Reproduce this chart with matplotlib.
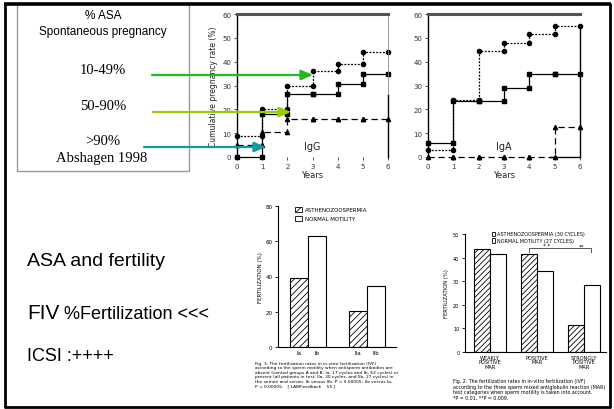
import matplotlib
matplotlib.use("Agg")
import matplotlib.pyplot as plt
from matplotlib.patches import Rectangle

# --- data ---
years = [0, 1, 2, 3, 4, 5, 6]
# cumulative pregnancy rate (%) per yearly interval
igg_low = [9, 20, 30, 36, 39, 44]       # 10-49% ASA, dotted circles
igg_mid = [0, 18, 26.5, 26.5, 30.5, 35]  # 50-90% ASA, solid squares
igg_high = [5, 10.5, 16, 16, 16, 16]     # >90% ASA, dashed triangles
iga_low = [3, 24, 44.5, 48, 51.5, 55]
iga_mid = [6, 23.5, 23.5, 29, 35, 35]
iga_high = [0, 0, 0, 0, 0, 12.5]

fig3_groups = ["Ia", "Ib", "IIa", "IIb"]
fig3_astheno = [39, 20.5]
fig3_normal = [63, 34.5]

fig2_groups = ["WEAKLY\nPOSITIVE\nMAR", "POSITIVE\nMAR", "STRONGLY\nPOSITIVE\nMAR"]
fig2_astheno = [43.5, 41.5, 11.5]
fig2_normal = [41.5, 34.5, 28.5]

W, H = 614, 410
fig = plt.figure(figsize=(W / 100, H / 100), dpi=100)
plt.rcParams["hatch.linewidth"] = 0.6


def px_axes(x0, y0, x1, y1):
    return fig.add_axes([x0 / W, 1 - y1 / H, (x1 - x0) / W, (y1 - y0) / H])


def step_pts(vals):
    xs, ys = [], []
    for i, v in enumerate(vals):
        xs += [years[i], years[i + 1]]
        ys += [v, v]
    return xs, ys


def km_plot(ax, low, mid, high, label, ylab):
    for vals, ls, mk in [(low, (0, (1.5, 1.2)), "o"), (mid, "-", "s"), (high, (0, (5, 3)), "^")]:
        xs, ys = step_pts(vals)
        ax.plot(xs, ys, color="black", lw=0.9, ls=ls, marker=mk, ms=3, clip_on=False)
    ax.set_xlim(0, 6)
    ax.set_ylim(0, 60)
    ax.set_xticks(years)
    ax.set_yticks(range(0, 61, 10))
    ax.tick_params(labelsize=5, length=2, width=0.6, pad=2, colors="#333")
    for s in ["bottom", "right"]:
        ax.spines[s].set_visible(False)
    ax.spines["top"].set_linewidth(2.2)
    ax.spines["top"].set_color("#555")
    ax.spines["left"].set_linewidth(1)
    ax.set_xlabel("Years", fontsize=6, labelpad=1, color="#222")
    if ylab:
        ax.set_ylabel("Cumulative pregnancy rate (%)", fontsize=5.5, labelpad=3, color="#222")
    ax.text(3.0, 4.6, label, fontsize=7, ha="center", va="center", color="#222")
    ax.patch.set_alpha(0)


ax1 = px_axes(237, 15, 388, 158)
km_plot(ax1, igg_low, igg_mid, igg_high, "IgG", True)
ax1.plot([6, 6], [0, 60], color="#888", lw=0.6, clip_on=False)
ax1.plot([6, 6], [0, 26], color="black", lw=1, clip_on=False)

ax2 = px_axes(428, 15, 580, 158)
km_plot(ax2, iga_low, iga_mid, iga_high, "IgA", False)
ax2.plot([6, 6], [0, 55], color="black", lw=1, clip_on=False)
ax2.plot([4.8, 6], [0, 0], color="black", lw=1, clip_on=False)

# --- Fig. 3 bar chart (bar width = 1 unit) ---
ax3 = px_axes(278, 207, 396, 348)
c3 = [1.67, 4.94]
ax3.bar([c - 0.5 for c in c3], fig3_astheno, width=1, color="white", edgecolor="black",
        hatch="/////", lw=0.8)
ax3.bar([c + 0.5 for c in c3], fig3_normal, width=1, color="white", edgecolor="black", lw=0.8)
ax3.set_xlim(0, 6.56)
ax3.set_ylim(0, 80)
ax3.set_yticks(range(0, 81, 20))
ax3.set_xticks([c3[0] - 0.5, c3[0] + 0.5, c3[1] - 0.5, c3[1] + 0.5])
ax3.set_xticklabels(fig3_groups)
ax3.tick_params(labelsize=4, length=2, width=0.6, pad=2)
ax3.tick_params(axis="x", length=0)
for s in ["top", "right"]:
    ax3.spines[s].set_visible(False)
ax3.set_ylabel("FERTILIZATION (%)", fontsize=4, labelpad=2)
ax3.add_patch(Rectangle((0.95, 76.5), 0.4, 3, facecolor="white", edgecolor="black",
                        hatch="////", lw=0.6, clip_on=False))
ax3.add_patch(Rectangle((0.95, 71.5), 0.4, 3, facecolor="white", edgecolor="black",
                        lw=0.6, clip_on=False))
ax3.text(1.5, 78, "ASTHENOZOOSPERMIA", fontsize=4, va="center")
ax3.text(1.5, 73, "NORMAL MOTILITY", fontsize=4, va="center")

# --- Fig. 2 bar chart (x in pixels from axis origin) ---
ax4 = px_axes(465, 235, 606, 353)
c4 = [25, 72, 119]
ax4.bar([c - 8 for c in c4], fig2_astheno, width=16, color="white", edgecolor="black",
        hatch="//////", lw=0.8)
ax4.bar([c + 8 for c in c4], fig2_normal, width=16, color="white", edgecolor="black", lw=0.8)
ax4.set_xlim(0, 141)
ax4.set_ylim(0, 50)
ax4.set_yticks(range(0, 51, 10))
ax4.set_xticks(c4)
ax4.set_xticklabels(fig2_groups, linespacing=0.9)
ax4.tick_params(labelsize=3.6, length=2, width=0.6, pad=2)
ax4.tick_params(axis="x", length=0)
for s in ["top", "right"]:
    ax4.spines[s].set_visible(False)
ax4.set_ylabel("FERTILIZATION (%)", fontsize=3.8, labelpad=3)
ax4.plot([64, 64, 126, 126], [42.5, 44, 44, 42.5], color="#555", lw=0.7)
ax4.text(82, 44.3, "* *", fontsize=4, ha="center")
ax4.text(117, 44.3, "**", fontsize=4, ha="center")
ax4.add_patch(Rectangle((27, 49), 3, 2, facecolor="white", edgecolor="black",
                        hatch="////", lw=0.6, clip_on=False))
ax4.add_patch(Rectangle((27, 46.2), 3, 2, facecolor="white", edgecolor="black",
                        lw=0.6, clip_on=False))
ax4.text(32, 50, "ASTHENOZOOSPERMIA (30 CYCLES)", fontsize=3.5, va="center")
ax4.text(32, 47.2, "NORMAL MOTILITY (27 CYCLES)", fontsize=3.5, va="center")

# --- slide overlay: frame, box, texts, arrows ---
ov = fig.add_axes([0, 0, 1, 1])
ov.set_xlim(0, W)
ov.set_ylim(H, 0)
ov.axis("off")
ov.patch.set_alpha(0)

ov.add_patch(Rectangle((17, 5), 172, 167, fill=False, edgecolor="#999", lw=1))
ov.plot([4, 611], [4.5, 4.5], color="black", lw=2.6, solid_capstyle="butt")
ov.plot([4.5, 4.5], [4, 408], color="black", lw=2, solid_capstyle="butt")
ov.plot([610, 610], [4, 408], color="black", lw=2, solid_capstyle="butt")
ov.plot([4, 611], [408, 408], color="black", lw=2, solid_capstyle="butt")

sans = "Liberation Sans"
serif = "Liberation Serif"
ov.text(103, 16, "% ASA", fontsize=8.5, family=sans, ha="center", va="center")
ov.text(103, 32, "Spontaneous pregnancy", fontsize=8.5, family=sans, ha="center", va="center")
ov.text(103, 70, "10-49%", fontsize=10.5, family=serif, ha="center", va="center")
ov.text(103, 106, "50-90%", fontsize=10.5, family=serif, ha="center", va="center")
ov.text(103, 142, ">90%", fontsize=10.5, family=serif, ha="center", va="center")
ov.text(102, 159, "Abshagen 1998", fontsize=10.5, family=serif, ha="center", va="center")

arrows = [((152, 76), (313, 76), "#22b822"), ((153, 113), (291, 113), "#99cc00"),
          ((144, 148), (266, 148), "#139aa0")]
for (x0, y0), (x1, y1), col in arrows:
    ov.annotate("", xy=(x1, y1), xytext=(x0, y0),
                arrowprops=dict(arrowstyle="-|>,head_length=0.7,head_width=0.3",
                                color=col, lw=1.6, shrinkA=0, shrinkB=0))

ov.text(27, 266, "ASA and fertility", fontsize=14, family=sans, va="baseline")
t = ov.text(27, 319, "FIV", fontsize=15, family=sans, va="baseline")
ov.annotate(" %Fertilization <<<", xycoords=t, xy=(1, 0), va="bottom",
            fontsize=13, family=sans)
ov.text(27, 361, "ICSI :++++", fontsize=13, family=sans, va="baseline")

cap3 = ("Fig. 3. The fertilization rates in in-vitro fertilization (IVF)\n"
        "according to the sperm motility when antisperm antibodies are\n"
        "absent (control groups A and B; Ia, 17 cycles and Ib, 62 cycles) or\n"
        "present (all patients in test; IIa, 30 cycles, and IIb, 27 cycles) in\n"
        "the semen and serum. Ib versus IIb, P < 0.00005; IIa versus Ia,\n"
        "P < 0.00005.   [ LAWFeedback    55 ]")
ov.text(255, 362, cap3, fontsize=3.2, va="top", linespacing=1.15)
cap2 = ("Fig. 2. The fertilization rates in in-vitro fertilization (IVF)\n"
        "according to the three sperm mixed antiglobulin reaction (MAR)\n"
        "test categories when sperm motility is taken into account.\n"
        "*P = 0.01, **P = 0.009.")
ov.text(453, 379, cap2, fontsize=3.4, va="top", linespacing=1.15)

fig.savefig("out.png", dpi=100)
